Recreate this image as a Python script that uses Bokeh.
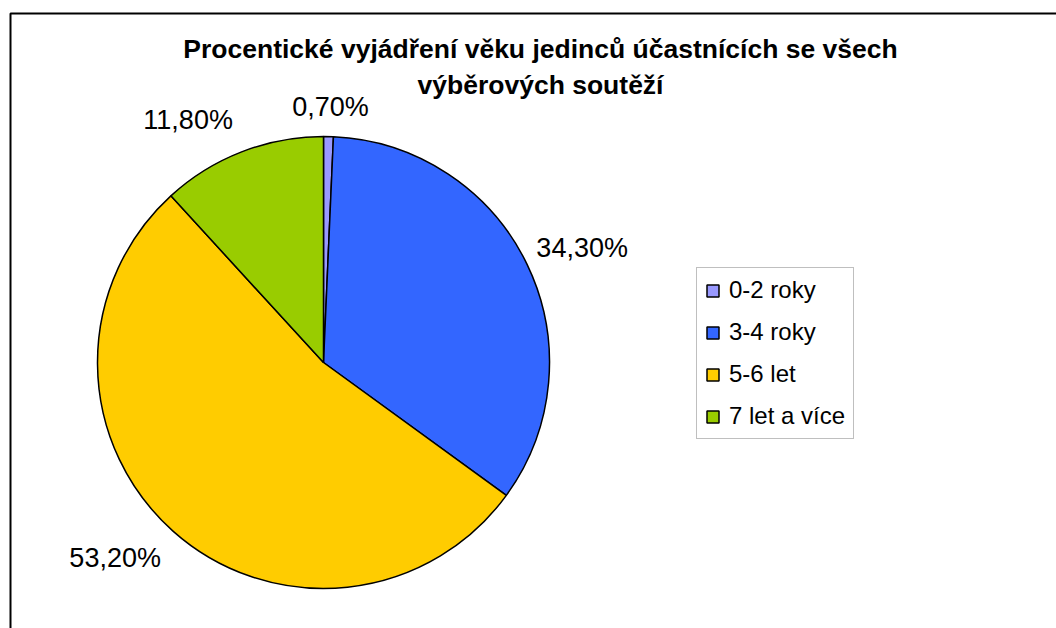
import math
from bokeh.plotting import figure
from bokeh.models import (ColumnDataSource, Range1d, Legend, LegendItem,
                          BoxAnnotation, Label)
from bokeh.embed import file_html
from bokeh.resources import INLINE

# ---- data ----
categories = ["0-2 roky", "3-4 roky", "5-6 let", "7 let a více"]
values = [0.7, 34.3, 53.2, 11.8]
colors = ["#9999FF", "#3366FF", "#FFCC00", "#99CC00"]
title_lines = ["Procentické vyjádření věku jedinců účastnících se všech",
               "výběrových soutěží"]

# ---- layout constants ----
W, H = 1056, 628
CX, CY, R = 323, 266, 226
label_nudge_deg = [0.3, 1.8, 5.0, -7.9]
label_dist = [256, 283, 286, 278]

total = sum(values)
start, end, labels, lx, ly = [], [], [], [], []
cum = 0.0
for i, v in enumerate(values):
    a0 = math.pi / 2 - cum / total * 2 * math.pi
    a1 = math.pi / 2 - (cum + v) / total * 2 * math.pi
    start.append(a0)
    end.append(a1)
    mid_deg = (cum + v / 2) / total * 360 + label_nudge_deg[i]
    lx.append(CX + label_dist[i] * math.sin(math.radians(mid_deg)))
    ly.append(CY + label_dist[i] * math.cos(math.radians(mid_deg)))
    labels.append(f"{v:.2f}".replace(".", ",") + "%")
    cum += v

src = ColumnDataSource(dict(cat=categories, val=values, color=colors,
                            start=start, end=end, x=[CX] * 4, y=[CY] * 4,
                            lx=lx, ly=ly, lab=labels))

p = figure(width=W, height=H, x_range=Range1d(0, W), y_range=Range1d(0, H),
           min_border=0, outline_line_color=None, toolbar_location=None,
           output_backend="svg", x_axis_location=None, y_axis_location=None)
p.grid.visible = False
p.background_fill_color = "white"

# chart area border (only top and left visible)
p.add_layout(BoxAnnotation(left=10, right=3000, top=615, bottom=-3000,
                           fill_alpha=0, line_color="black", line_alpha=1,
                           line_width=2))

r = p.wedge(x="x", y="y", radius=R, start_angle="start", end_angle="end",
            direction="clock", fill_color="color", line_color="black",
            line_width=1.5, source=src)

p.text(x="lx", y="ly", text="lab", source=src, text_align="center",
       text_baseline="middle", text_font_size="27px",
       text_font={"value": "Liberation Sans"}, text_color="black")

for i, t in enumerate(title_lines):
    p.add_layout(Label(x=540, y=580 - 36 * i, text=t, text_align="center",
                       text_baseline="alphabetic", text_font_size="26.5px",
                       text_font_style="bold", text_font="Liberation Sans",
                       text_color="black"))

items = [LegendItem(label=c, renderers=[r], index=i)
         for i, c in enumerate(categories)]
legend = Legend(items=items, location=(696, 189), orientation="vertical",
                glyph_width=15, glyph_height=15, label_height=28,
                spacing=14, padding=8, label_standoff=9, margin=0,
                label_text_font="Liberation Sans", label_text_font_size="24px",
                label_text_color="black",
                border_line_color="#808080", border_line_width=1,
                background_fill_color="white", background_fill_alpha=1)
p.add_layout(legend, "center")

open("out.html", "w").write(file_html(p, INLINE))
